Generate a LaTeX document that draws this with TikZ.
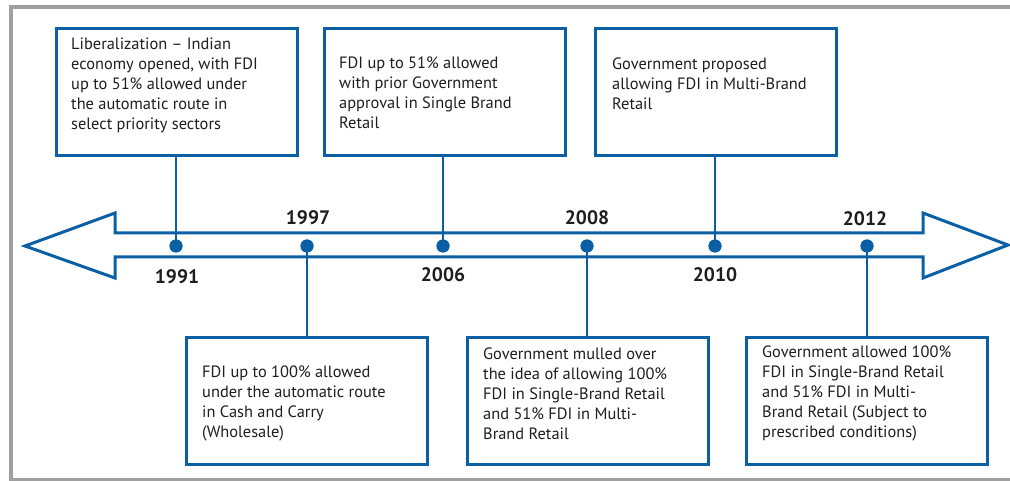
\documentclass[tikz,border=0pt]{standalone}
\usepackage{fontspec}
\setmainfont{PT Sans}
\begin{document}
\begin{tikzpicture}[x=1pt,y=-1pt,
  blueline/.style={draw=tlblue,line width=3pt},
  evbox/.style={blueline,fill=white,rectangle,minimum width=241pt,minimum height=127pt,inner sep=0pt},
  evtext/.style={anchor=north west,inner sep=0pt,align=left,text=txtgray,
                 font=\fontsize{16.4}{19.8}\selectfont},
  yearlbl/.style={inner sep=0pt,text=txtgray,font=\fontsize{19.5}{21}\selectfont\bfseries},
  evdot/.style={circle,fill=tlblue,inner sep=0pt,minimum size=13pt},
  stem/.style={draw=tlblue,line width=2pt}]
\definecolor{tlblue}{HTML}{0B5FA5}
\definecolor{txtgray}{HTML}{1E1E1E}
\definecolor{framegray}{HTML}{A0A0A0}
\useasboundingbox (0,0) rectangle (1010,481);
% outer frame (open on the right)
\draw[framegray,line width=4pt] (1010,7) -- (10.5,7) -- (10.5,481);
\draw[framegray,line width=3pt] (10.5,479.5) -- (1010,479.5);

% double-headed hollow timeline arrow
\draw[blueline,fill=white,line join=miter]
  (25,246) -- (115,213) -- (115,233) -- (923,233) -- (923,213) -- (1008,245)
  -- (923,278) -- (923,257) -- (115,257) -- (115,278) -- cycle;

% event boxes
\node[evbox,anchor=north west] (b91) at (55,27) {};
\node[evbox,anchor=north west] (b06) at (323,27) {};
\node[evbox,anchor=north west] (b10) at (594,27) {};
\node[evbox,anchor=north west] (b97) at (185,336) {};
\node[evbox,anchor=north west] (b08) at (466,336) {};
\node[evbox,anchor=north west] (b12) at (745,336) {};

% dots on the timeline
\node[evdot] (d91) at (176,246) {};
\node[evdot] (d97) at (307,246) {};
\node[evdot] (d06) at (443,246) {};
\node[evdot] (d08) at (587,246) {};
\node[evdot] (d10) at (715,246) {};
\node[evdot] (d12) at (867,246) {};

% stems joining boxes and dots
\draw[stem] (b91.south -| d91) -- (d91.center);
\draw[stem] (b06.south -| d06) -- (d06.center);
\draw[stem] (b10.south -| d10) -- (d10.center);
\draw[stem] (d97.center) -- (b97.north -| d97);
\draw[stem] (d08.center) -- (b08.north -| d08);
\draw[stem] (d12.center) -- (b12.north -| d12);

% redraw dots above the stems
\foreach \d in {d91,d97,d06,d08,d10,d12} \fill[tlblue] (\d) circle (6.5pt);

% years
\node[yearlbl] (y91) at (177,277) {1991};
\node[yearlbl] (y97) at (308,218) {1997};
\node[yearlbl] (y06) at (443,275) {2006};
\node[yearlbl] (y08) at (587,218) {2008};
\node[yearlbl] (y10) at (715,275) {2010};
\node[yearlbl] (y12) at (865,219) {2012};

% box texts
\node[evtext] (t91) at (71,38) {Liberalization -- Indian\\economy opened, with FDI\\up to 51\% allowed under\\the automatic route in\\select priority sectors};
\node[evtext] (t06) at (339,57) {FDI up to 51\% allowed\\with prior Government\\approval in Single Brand\\Retail};
\node[evtext] (t10) at (612,58) {Government proposed\\allowing FDI in Multi-Brand\\Retail};
\node[evtext] (t97) at (202,366) {FDI up to 100\% allowed\\under the automatic route\\in Cash and Carry\\(Wholesale)};
\node[evtext] (t08) at (483,348) {Government mulled over\\the idea of allowing 100\%\\FDI in Single-Brand Retail\\and 51\% FDI in Multi-\\Brand Retail};
\node[evtext] (t12) at (762,346) {Government allowed 100\%\\FDI in Single-Brand Retail\\and 51\% FDI in Multi-\\Brand Retail (Subject to\\prescribed conditions)};
\end{tikzpicture}
\end{document}
